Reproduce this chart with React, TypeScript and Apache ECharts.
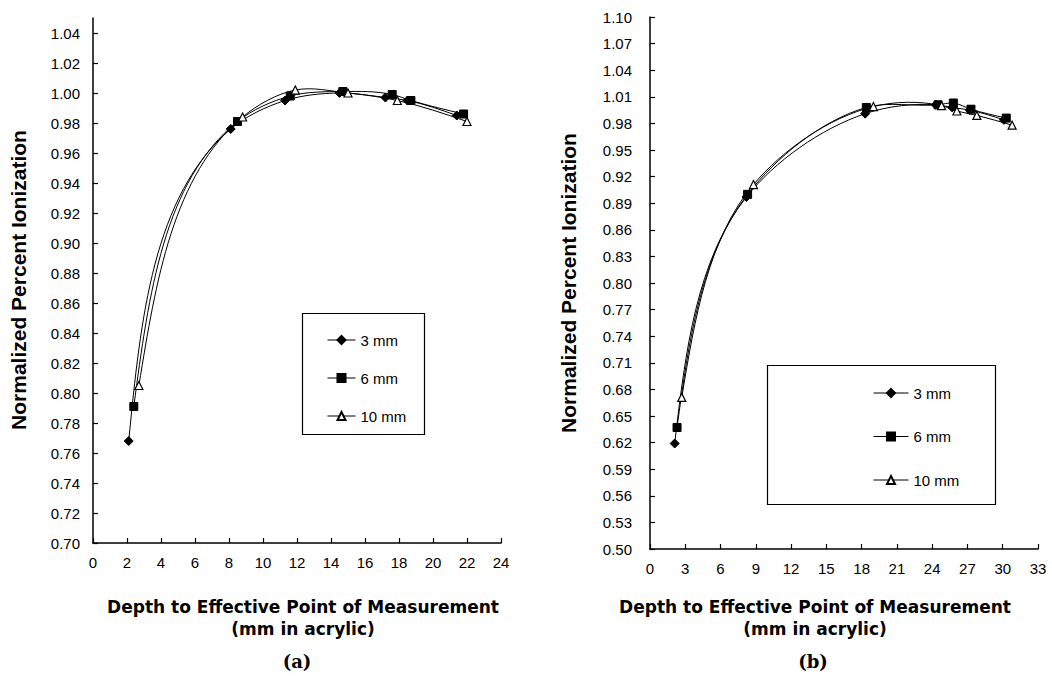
import React, { useEffect, useRef } from "react";
import * as echarts from "echarts";

// Panel (a)
const aX3 = [2.1, 8.1, 11.3, 14.5, 17.2, 18.5, 21.4];
const aY3 = [0.768, 0.976, 0.995, 1.0, 0.997, 0.995, 0.985];
const aX6 = [2.4, 8.5, 11.6, 14.7, 17.6, 18.7, 21.8];
const aY6 = [0.791, 0.981, 0.998, 1.001, 0.999, 0.995, 0.986];
const aX10 = [2.7, 8.8, 11.9, 15.0, 17.9, 22.0];
const aY10 = [0.805, 0.984, 1.002, 1.0, 0.995, 0.981];

// Panel (b)
const bX3 = [2.1, 8.2, 18.3, 24.3, 25.7, 27.2, 30.1];
const bY3 = [0.619, 0.897, 0.991, 1.001, 0.998, 0.995, 0.984];
const bX6 = [2.3, 8.3, 18.4, 24.5, 25.8, 27.3, 30.3];
const bY6 = [0.637, 0.9, 0.998, 1.001, 1.003, 0.996, 0.986];
const bX10 = [2.7, 8.8, 19.0, 24.8, 26.1, 27.8, 30.8];
const bY10 = [0.671, 0.911, 0.999, 1.0, 0.994, 0.989, 0.978];

const seriesNames = ["3 mm", "6 mm", "10 mm"];
const aYMin = 0.7;
const bYMin = 0.5;

const pairs = (xs: number[], ys: number[], off: number) =>
  xs.map((x, i) => [x, +(ys[i] - off).toFixed(4)]);

const symbolFor = (i: number) => {
  if (i === 0) return { symbol: "diamond", symbolSize: 9, itemStyle: { color: "#000", borderColor: "#000", borderWidth: 1 } };
  if (i === 1) return { symbol: "rect", symbolSize: 8, itemStyle: { color: "#000", borderColor: "#000", borderWidth: 1 } };
  return { symbol: "triangle", symbolSize: 8, itemStyle: { color: "#fff", borderColor: "#000", borderWidth: 1.2 } };
};

const labelFont = { fontFamily: "Liberation Sans, Arial, sans-serif", fontSize: 14, color: "#000" };

// Smooth curve (centripetal Catmull-Rom style) drawn through the series points in pixel space
const renderCurve = (params: any, api: any) => {
  const i = params.dataIndexInside;
  const n = params.dataInsideLength;
  if (i >= n - 1) return { type: "group", children: [] };
  const P = (k: number) => api.coord([api.value(0, k), api.value(1, k)]);
  const dist = (a: number[], b: number[]) => Math.hypot(b[0] - a[0], b[1] - a[1]) || 1e-6;
  const tangent = (k: number) => {
    const p0 = P(k - 1), p1 = P(k), p2 = P(k + 1);
    const dp = dist(p0, p1), dn = dist(p1, p2);
    const wp = Math.sqrt(dp), wn = Math.sqrt(dn);
    return [
      ((p1[0] - p0[0]) / dp) * (wn / (wp + wn)) + ((p2[0] - p1[0]) / dn) * (wp / (wp + wn)),
      ((p1[1] - p0[1]) / dp) * (wn / (wp + wn)) + ((p2[1] - p1[1]) / dn) * (wp / (wp + wn)),
    ];
  };
  const a = P(i), b = P(i + 1);
  const d = dist(a, b);
  let c1: number[] | null = null, c2: number[] | null = null;
  if (i > 0) { const t = tangent(i); c1 = [a[0] + (t[0] * d) / 3, a[1] + (t[1] * d) / 3]; }
  if (i + 1 < n - 1) { const t = tangent(i + 1); c2 = [b[0] - (t[0] * d) / 3, b[1] - (t[1] * d) / 3]; }
  if (!c1 && c2) c1 = [(a[0] + c2[0]) / 2, (a[1] + c2[1]) / 2];
  if (!c2 && c1) c2 = [(b[0] + c1[0]) / 2, (b[1] + c1[1]) / 2];
  if (!c1 || !c2) { c1 = a; c2 = b; }
  return {
    type: "bezierCurve",
    shape: { x1: a[0], y1: a[1], x2: b[0], y2: b[1], cpx1: c1[0], cpy1: c1[1], cpx2: c2[0], cpy2: c2[1] },
    style: { stroke: "#000", lineWidth: 1, fill: "none" },
    silent: true,
  };
};

export default function App() {
  const ref = useRef<HTMLDivElement>(null);
  useEffect(() => {
    if (!ref.current) return;
    const chart = echarts.init(ref.current, undefined, { renderer: "svg" });
    const aData = [pairs(aX3, aY3, aYMin), pairs(aX6, aY6, aYMin), pairs(aX10, aY10, aYMin)];
    const bData = [pairs(bX3, bY3, bYMin), pairs(bX6, bY6, bYMin), pairs(bX10, bY10, bYMin)];
    const mk = (data: number[][], i: number, idx: number) => ({
      type: "line",
      name: seriesNames[i],
      xAxisIndex: idx,
      yAxisIndex: idx,
      data,
      z: 3,
      lineStyle: { color: "#000", width: 1, opacity: 0 },
      ...symbolFor(i),
    });
    const curve = (data: number[][], i: number, idx: number) => ({
      type: "custom",
      name: "curve " + seriesNames[i] + " " + idx,
      coordinateSystem: "cartesian2d",
      xAxisIndex: idx,
      yAxisIndex: idx,
      data,
      encode: { x: 0, y: 1 },
      z: 2,
      renderItem: renderCurve,
    });
    const axisLine = { show: true, lineStyle: { color: "#000", width: 1.5 } };
    const axisTick = { show: true, inside: true, length: 5, lineStyle: { color: "#000", width: 1.2 } };
    const legendCommon = {
      orient: "vertical",
      padding: 0,
      itemHeight: 10,
      data: seriesNames,
      selectedMode: false,
      lineStyle: { color: "#000", width: 1, opacity: 1 },
      textStyle: { ...labelFont, fontSize: 15, lineHeight: 16 },
    };
    const titleStyleY = { text: "Normalized Percent Ionization", fontFamily: "Liberation Sans, Arial, sans-serif", fontWeight: "bold", fontSize: 21, fill: "#000", align: "center", verticalAlign: "middle" };
    const titleStyleX = { fontFamily: "DejaVu Sans, sans-serif", fontWeight: "bold", fontSize: 17, fill: "#000", align: "center", verticalAlign: "middle" };
    chart.setOption({
      animation: false,
      backgroundColor: "#fff",
      grid: [
        { left: 93, top: 18, width: 408, height: 525 },
        { left: 650, top: 17, width: 388, height: 532 },
      ],
      xAxis: [
        { type: "value", gridIndex: 0, min: 0, max: 24, interval: 2, axisLine, axisTick, splitLine: { show: false }, axisLabel: { ...labelFont, fontSize: 15, margin: 12 } },
        { type: "value", gridIndex: 1, min: 0, max: 33, interval: 3, axisLine, axisTick, splitLine: { show: false }, axisLabel: { ...labelFont, fontSize: 15, margin: 12 } },
      ],
      yAxis: [
        {
          type: "value", gridIndex: 0, min: 0, max: 0.35, interval: 0.02, axisLine, axisTick, splitLine: { show: false },
          axisLabel: { ...labelFont, fontSize: 15, margin: 13, showMaxLabel: false, formatter: (v: number) => (v + aYMin).toFixed(2) },
        },
        {
          type: "value", gridIndex: 1, min: 0, max: 0.6, interval: 0.03, axisLine, axisTick, splitLine: { show: false },
          axisLabel: { ...labelFont, fontSize: 15, margin: 18, formatter: (v: number) => (v + bYMin).toFixed(2) },
        },
      ],
      legend: [
        { ...legendCommon, left: 327, top: 332, itemWidth: 28, itemGap: 22 },
        { ...legendCommon, left: 873, top: 385, itemWidth: 35, itemGap: 27.5 },
      ],
      graphic: [
        { type: "rect", shape: { x: 302.5, y: 313.5, width: 122, height: 121 }, style: { fill: "none", stroke: "#000", lineWidth: 1.2 }, silent: true },
        { type: "rect", shape: { x: 767.5, y: 365.5, width: 228, height: 139 }, style: { fill: "none", stroke: "#000", lineWidth: 1.2 }, silent: true },
        { type: "text", x: 18, y: 280, rotation: Math.PI / 2, style: { ...titleStyleY } },
        { type: "text", x: 568, y: 283, rotation: Math.PI / 2, style: { ...titleStyleY } },
        { type: "text", x: 303, y: 607, style: { ...titleStyleX, text: "Depth to Effective Point of Measurement" } },
        { type: "text", x: 303, y: 629, style: { ...titleStyleX, text: "(mm in acrylic)" } },
        { type: "text", x: 815, y: 607, style: { ...titleStyleX, text: "Depth to Effective Point of Measurement" } },
        { type: "text", x: 815, y: 629, style: { ...titleStyleX, text: "(mm in acrylic)" } },
        { type: "text", x: 297, y: 661, style: { text: "(a)", fontFamily: "DejaVu Serif, serif", fontWeight: "bold", fontSize: 18, fill: "#000", align: "center", verticalAlign: "middle" } },
        { type: "text", x: 813, y: 661, style: { text: "(b)", fontFamily: "DejaVu Serif, serif", fontWeight: "bold", fontSize: 18, fill: "#000", align: "center", verticalAlign: "middle" } },
      ],
      series: [
        curve(aData[0], 0, 0), curve(aData[1], 1, 0), curve(aData[2], 2, 0),
        curve(bData[0], 0, 1), curve(bData[1], 1, 1), curve(bData[2], 2, 1),
        mk(aData[0], 0, 0), mk(aData[1], 1, 0), mk(aData[2], 2, 0),
        mk(bData[0], 0, 1), mk(bData[1], 1, 1), mk(bData[2], 2, 1),
      ],
    });
    return () => chart.dispose();
  }, []);
  return <div ref={ref} style={{ position: "fixed", left: 0, top: 0, width: 1052, height: 678, background: "#fff" }} />;
}
